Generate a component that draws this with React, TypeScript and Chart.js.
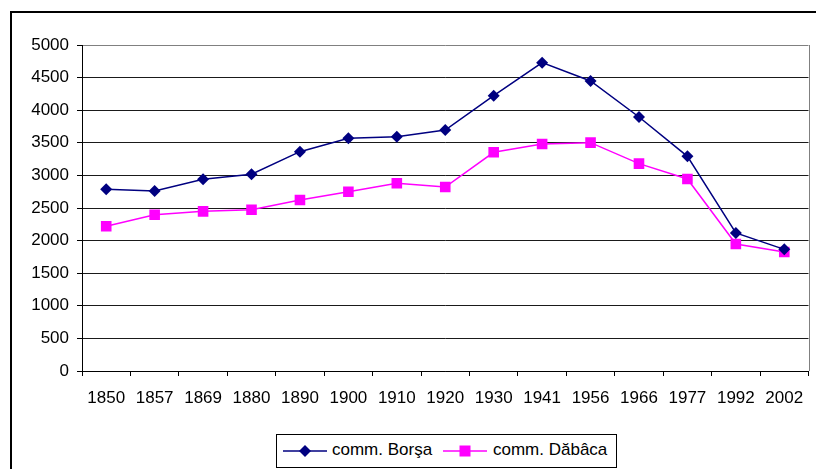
import React, { useEffect, useRef } from "react";
import { Chart, registerables } from "chart.js";

Chart.register(...registerables);

const years = ["1850", "1857", "1869", "1880", "1890", "1900", "1910", "1920", "1930", "1941", "1956", "1966", "1977", "1992", "2002"];
const borsa = [2787, 2761, 2940, 3017, 3364, 3569, 3594, 3696, 4222, 4729, 4448, 3896, 3293, 2117, 1866];
const dabaca = [2219, 2397, 2449, 2474, 2623, 2750, 2879, 2822, 3354, 3482, 3502, 3180, 2945, 1948, 1825];
const seriesNames = ["comm. Borşa", "comm. Dăbâca"];
const seriesColors = ["#000080", "#FF00FF"];

const FONT = "'Liberation Sans', Arial, sans-serif";
const FS = 17;

export default function App() {
  const ref = useRef<HTMLCanvasElement | null>(null);

  useEffect(() => {
    document.body.style.margin = "0";
    if (!ref.current) return;
    const rightBorder = {
      id: "rightBorder",
      beforeDatasetsDraw(chart: any) {
        const { ctx, chartArea } = chart;
        ctx.save();
        ctx.strokeStyle = "#808080";
        ctx.lineWidth = 1;
        ctx.beginPath();
        const x = Math.round(chartArea.right) + 0.5;
        ctx.moveTo(x, chartArea.top);
        ctx.lineTo(x, chartArea.bottom);
        ctx.stroke();
        ctx.restore();
      },
    };
    const chart = new Chart(ref.current, {
      type: "line",
      data: {
        labels: years,
        datasets: [
          {
            label: seriesNames[0],
            data: borsa,
            borderColor: seriesColors[0],
            backgroundColor: seriesColors[0],
            borderWidth: 1.5,
            pointStyle: "rectRot",
            pointRadius: 6,
            pointBorderWidth: 0,
            tension: 0,
          },
          {
            label: seriesNames[1],
            data: dabaca,
            borderColor: seriesColors[1],
            backgroundColor: seriesColors[1],
            borderWidth: 1.5,
            pointStyle: "rect",
            pointRadius: 7.5,
            pointBorderWidth: 0,
            tension: 0,
          },
        ],
      },
      options: {
        responsive: true,
        maintainAspectRatio: false,
        animation: false,
        layout: { padding: { left: 0, right: 5, top: 45, bottom: 0 } },
        plugins: { legend: { display: false }, tooltip: { enabled: false } },
        scales: {
          x: {
            type: "category",
            offset: true,
            grid: { drawOnChartArea: false, drawTicks: true, tickLength: 5, color: "#000", offset: true },
            border: { color: "#000", width: 1 },
            ticks: { color: "#000", font: { family: FONT, size: FS }, padding: 12, maxRotation: 0, autoSkip: false },
            afterFit: (s: any) => { s.height = 98; },
          },
          y: {
            min: 0,
            max: 5000,
            ticks: {
              stepSize: 500,
              color: "#000",
              font: { family: FONT, size: FS },
              padding: 8,
              callback: (v: any) => String(v),
            },
            grid: {
              color: (c: any) => (c.tick && c.tick.value === 5000 ? "#808080" : "#1a1a1a"),
              tickColor: "#000",
              tickLength: 5,
            },
            border: { color: "#000", width: 1 },
            afterFit: (s: any) => { s.width = 82; },
          },
        },
      },
      plugins: [rightBorder],
    });
    return () => chart.destroy();
  }, []);

  const legendItem = (i: number, lineX: number, textX: number) => (
    <>
      <svg style={{ position: "absolute", left: lineX, top: 8, width: 44, height: 16 }} width={44} height={16}>
        <line x1={0} y1={8} x2={44} y2={8} stroke={seriesColors[i]} strokeWidth={1.5} />
        {i === 0 ? (
          <polygon points="22,2 28,8 22,14 16,8" fill={seriesColors[i]} />
        ) : (
          <rect x={16.5} y={2.5} width={11} height={11} fill={seriesColors[i]} />
        )}
      </svg>
      <span style={{ position: "absolute", left: textX, top: 5, fontFamily: FONT, fontSize: FS, lineHeight: "20px", color: "#000", whiteSpace: "nowrap" }}>
        {seriesNames[i]}
      </span>
    </>
  );

  return (
    <div style={{ position: "fixed", left: 0, top: 0, width: 816, height: 469, overflow: "hidden", background: "#fff" }}>
      <div style={{ position: "absolute", left: 10, top: 11, width: 900, height: 600, border: "2px solid #000" }} />
      <div style={{ position: "absolute", left: 0, top: 0, width: 816, height: 469 }}>
        <canvas ref={ref} />
      </div>
      <div style={{ position: "absolute", left: 276, top: 434, width: 341, height: 34, border: "1px solid #000", boxSizing: "border-box", background: "#fff" }}>
        {legendItem(0, 6, 55)}
        {legendItem(1, 166, 216)}
      </div>
    </div>
  );
}
